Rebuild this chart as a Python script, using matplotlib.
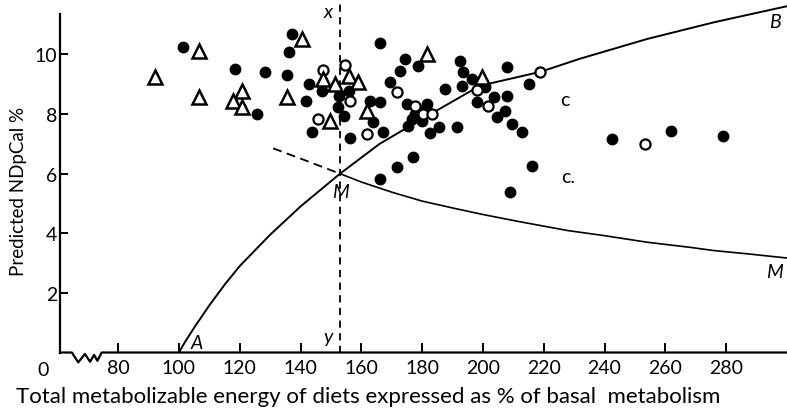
import matplotlib
matplotlib.use("Agg")
import matplotlib.pyplot as plt

# ---------------- data ----------------
filled_x = [101.3, 118.5, 128.4, 125.6, 135.5, 137.1, 136.3, 141.8, 142.9, 143.7,
            147.0, 152.5, 152.2, 154.3, 155.8, 156.3, 162.9, 163.8, 166.2, 167.1,
            166.2, 169.5, 172.8, 174.4, 178.8, 166.2, 171.6, 177.1, 175.0, 175.5,
            177.7, 179.9, 181.5, 182.6, 185.4, 191.4, 187.6, 192.5, 193.6, 196.3,
            193.1, 198.0, 200.7, 203.5, 207.9, 207.9, 207.3, 204.6, 209.5, 212.8,
            215.0, 216.1, 208.9, 242.4, 261.8, 279.1, 178.4, 176.7]
filled_y = [10.24, 9.51, 9.42, 8.00, 9.31, 10.69, 10.07, 8.45, 9.01, 7.41,
            8.79, 8.62, 8.23, 7.93, 8.79, 7.19, 8.45, 7.72, 8.40, 7.39,
            10.39, 9.07, 9.46, 9.85, 9.62, 5.82, 6.21, 6.55, 8.34, 7.61,
            8.00, 7.78, 8.34, 7.35, 7.56, 7.56, 8.84, 9.79, 9.40, 9.18,
            8.95, 8.40, 8.90, 8.56, 9.57, 8.62, 8.11, 7.89, 7.67, 7.39,
            9.01, 6.27, 5.38, 7.16, 7.44, 7.28, 8.17, 7.83]

open_x = [147.5, 154.7, 156.3, 145.9, 161.8, 171.6, 177.7, 180.4, 183.2, 198.0,
          201.8, 218.8, 253.4]
open_y = [9.49, 9.65, 8.45, 7.84, 7.33, 8.73, 8.28, 8.00, 8.00, 8.82,
          8.26, 9.40, 7.00]

tri_x = [92.2, 106.7, 106.7, 120.7, 117.9, 120.7, 135.5, 140.4, 147.5, 151.4,
         155.8, 159.0, 149.7, 161.8, 181.5, 199.6]
tri_y = [9.24, 10.13, 8.56, 8.79, 8.45, 8.23, 8.56, 10.52, 9.18, 9.01,
         9.29, 9.07, 7.78, 8.11, 10.02, 9.23]

# curve A-B
ab_x = [100, 102, 105, 110, 115, 120, 130, 140, 153, 166, 178, 199, 219, 232, 254, 276, 300]
ab_y = [0.0, 0.35, 0.83, 1.58, 2.27, 2.90, 3.95, 4.90, 6.00, 7.00, 7.72, 8.95, 9.42, 9.86, 10.52, 11.08, 11.62]

# curve M (dashed part and solid part)
md_x = [131, 142, 153]
md_y = [6.85, 6.43, 6.00]
m_x = [153, 160, 170, 180, 190, 200, 212, 228, 240, 254, 268, 276, 288, 300]
m_y = [6.00, 5.72, 5.38, 5.08, 4.85, 4.63, 4.39, 4.09, 3.92, 3.70, 3.53, 3.42, 3.30, 3.17]

x_mark = 153  # vertical dashed line x-y

xticks = [80, 100, 120, 140, 160, 180, 200, 220, 240, 260, 280]
yticks = [2, 4, 6, 8, 10]

# axis break zigzag
brk_x = [60.9, 64.8, 66.9, 69.1, 70.8, 72.1, 73.2, 74.6, 300]
brk_y = [0, 0, -0.33, -0.05, -0.31, -0.08, -0.28, 0, 0]

# ---------------- figure ----------------
FONT = ['Lato', 'DejaVu Sans']
plt.rcParams['font.family'] = FONT

fig = plt.figure(figsize=(7.87, 4.10), dpi=100)
ax = fig.add_axes([60 / 787, 56.5 / 410, 727 / 787, 348.7 / 410])
ax.set_xlim(60.9, 300)
ax.set_ylim(0, 11.7)

ax.spines['top'].set_visible(False)
ax.spines['right'].set_visible(False)
ax.spines['bottom'].set_visible(False)
ax.spines['left'].set_bounds(0, 11.35)
ax.spines['left'].set_linewidth(1.6)

# x axis with break
ax.plot(brk_x, brk_y, color='black', lw=1.6, clip_on=False, zorder=3)

ax.set_xticks(xticks)
ax.set_xticklabels([str(t) for t in xticks])
ax.set_yticks(yticks)
ax.set_yticklabels([str(t) for t in yticks])
ax.tick_params(axis='x', direction='in', length=7, width=1.4, pad=5, labelsize=14)
ax.tick_params(axis='y', direction='in', length=6, width=1.4, pad=2, labelsize=14)
ax.text(-0.0155, -0.05, '0', transform=ax.transAxes, fontsize=14,
        ha='right', va='center')

# curves
ax.plot(ab_x, ab_y, color='black', lw=1.4, zorder=2)
ax.plot(m_x, m_y, color='black', lw=1.2, zorder=2)
ax.plot(md_x, md_y, color='black', lw=1.3, ls=(0, (5, 3)), zorder=2)
ax.plot([x_mark, x_mark], [0, 11.7], color='black', lw=1.3, ls=(0, (4, 3)),
        zorder=2, clip_on=False)

# points
ax.plot(filled_x, filled_y, 'o', color='black', ms=7.5, zorder=4, ls='none')
ax.plot(open_x, open_y, 'o', mfc='white', mec='black', mew=1.6, ms=7.3, zorder=5, ls='none')
ax.plot(tri_x, tri_y, '^', mfc='white', mec='black', mew=1.8, ms=10, zorder=5, ls='none')

# letters
lab = dict(fontsize=14, style='italic', color='black', ha='center', va='center')
ax.text(149.0, 11.45, 'x', **lab)
ax.text(149.0, 0.55, 'y', **lab)
ax.text(153.0, 5.4, 'M', **lab)
ax.text(296.0, 2.72, 'M', **lab)
ax.text(105.8, 0.32, 'A', **lab)
ax.text(296.0, 11.1, 'B', **lab)
ax.text(227.0, 8.5, 'c', fontsize=14, ha='center', va='center')
ax.text(228.0, 5.92, 'c.', fontsize=14, ha='center', va='center')

fig.text(368.5 / 787, 6.5 / 410,
         'Total metabolizable energy of diets expressed as % of basal  metabolism',
         fontsize=16, ha='center', va='baseline')
fig.text(19 / 787, (410 - 191) / 410, 'Predicted NDpCal %', fontsize=13.5,
         rotation=90, ha='center', va='center')

fig.savefig('out.png', dpi=100)
